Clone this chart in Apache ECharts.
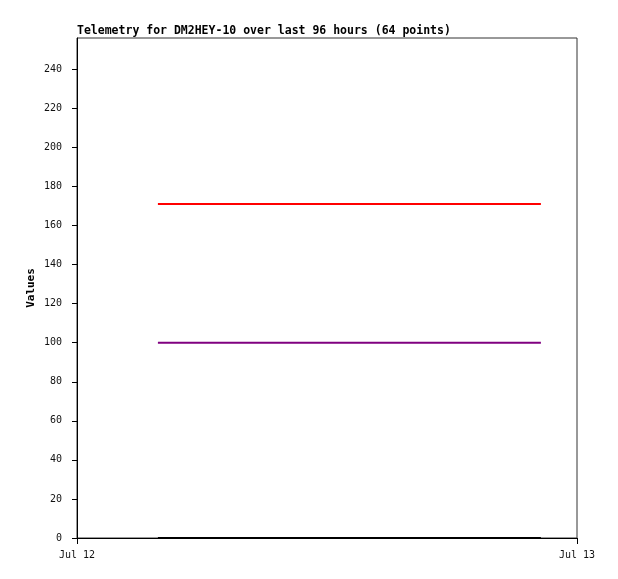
<!DOCTYPE html>
<html><head><meta charset="utf-8">
<script src="https://cdn.jsdelivr.net/npm/echarts@6/dist/echarts.min.js"></script>
<style>html,body{margin:0;padding:0;background:#fff}#c{width:618px;height:579px}</style>
</head><body><div id="c"></div>
<script>
const titleText = 'Telemetry for DM2HEY-10 over last 96 hours (64 points)';
const yAxisName = 'Values';
const day = '2024-07-12';
const times = ['03:53','04:10','04:28','04:46','05:03','05:20','05:38','05:56','06:13','06:30','06:48','07:06','07:23','07:40','07:58','08:16',
'08:33','08:50','09:08','09:26','09:43','10:00','10:18','10:36','10:53','11:10','11:28','11:46','12:03','12:20','12:38','12:56',
'13:13','13:30','13:48','14:06','14:23','14:40','14:58','15:16','15:33','15:50','16:08','16:26','16:43','17:00','17:18','17:36',
'17:53','18:10','18:28','18:46','19:03','19:20','19:38','19:56','20:13','20:30','20:48','21:06','21:23','21:40','21:58','22:16'];
const redValues = [171,171,171,171,171,171,171,171,171,171,171,171,171,171,171,171,171,171,171,171,171,171,171,171,171,171,171,171,171,171,171,171,
171,171,171,171,171,171,171,171,171,171,171,171,171,171,171,171,171,171,171,171,171,171,171,171,171,171,171,171,171,171,171,171];
const purpleValues = [100,100,100,100,100,100,100,100,100,100,100,100,100,100,100,100,100,100,100,100,100,100,100,100,100,100,100,100,100,100,100,100,
100,100,100,100,100,100,100,100,100,100,100,100,100,100,100,100,100,100,100,100,100,100,100,100,100,100,100,100,100,100,100,100];
const blackValues = [0,0,0,0,0,0,0,0,0,0,0,0,0,0,0,0,0,0,0,0,0,0,0,0,0,0,0,0,0,0,0,0,
0,0,0,0,0,0,0,0,0,0,0,0,0,0,0,0,0,0,0,0,0,0,0,0,0,0,0,0,0,0,0,0];
const xStart = '2024-07-12T00:00:00Z';
const xEnd = '2024-07-13T00:00:00Z';
const months = ['Jan','Feb','Mar','Apr','May','Jun','Jul','Aug','Sep','Oct','Nov','Dec'];

const ts = times.map(t => Date.parse(day + 'T' + t + ':00Z'));
const pair = vals => vals.map((v, i) => [ts[i], v]);
const font = '"DejaVu Sans Mono", monospace';

const chart = echarts.init(document.getElementById('c'), null, {renderer: 'canvas'});
const line = (name, color, vals) => ({
  name, type: 'line', data: pair(vals), showSymbol: false, symbol: 'none',
  lineStyle: {color, width: 2}, itemStyle: {color}, animation: false
});
chart.setOption({
  animation: false,
  backgroundColor: '#fff',
  title: {text: titleText, left: 77, top: 25, padding: 0, textStyle: {fontFamily: font, fontSize: 11.5, fontWeight: 'bold', color: '#000'}},
  grid: {left: 77, right: 41, top: 38, bottom: 41, show: true, borderColor: '#333', borderWidth: 1, backgroundColor: 'transparent'},
  xAxis: {
    type: 'value', min: Date.parse(xStart), max: Date.parse(xEnd), interval: 86400000,
    axisLine: {lineStyle: {color: '#000'}},
    axisTick: {show: true, length: 6, lineStyle: {color: '#000'}},
    splitLine: {show: false},
    axisLabel: {fontFamily: font, fontSize: 10, color: '#111', margin: 12,
      formatter: v => { const d = new Date(v); return months[d.getUTCMonth()] + ' ' + d.getUTCDate(); }}
  },
  yAxis: {
    type: 'value', min: 0, max: 256, interval: 20,
    name: yAxisName, nameLocation: 'middle', nameGap: 40, nameMoveOverlap: false,
    nameTextStyle: {fontFamily: font, fontSize: 11, fontWeight: 'bold', color: '#000'},
    axisLine: {show: true, lineStyle: {color: '#000'}},
    axisTick: {show: true, length: 5, lineStyle: {color: '#000'}},
    splitLine: {show: false},
    axisLabel: {fontFamily: font, fontSize: 10, color: '#111', margin: 15, showMaxLabel: false}
  },
  series: [
    line('black', '#000000', blackValues),
    line('purple', '#800080', purpleValues),
    line('red', '#ff0000', redValues)
  ]
});
</script></body></html>
